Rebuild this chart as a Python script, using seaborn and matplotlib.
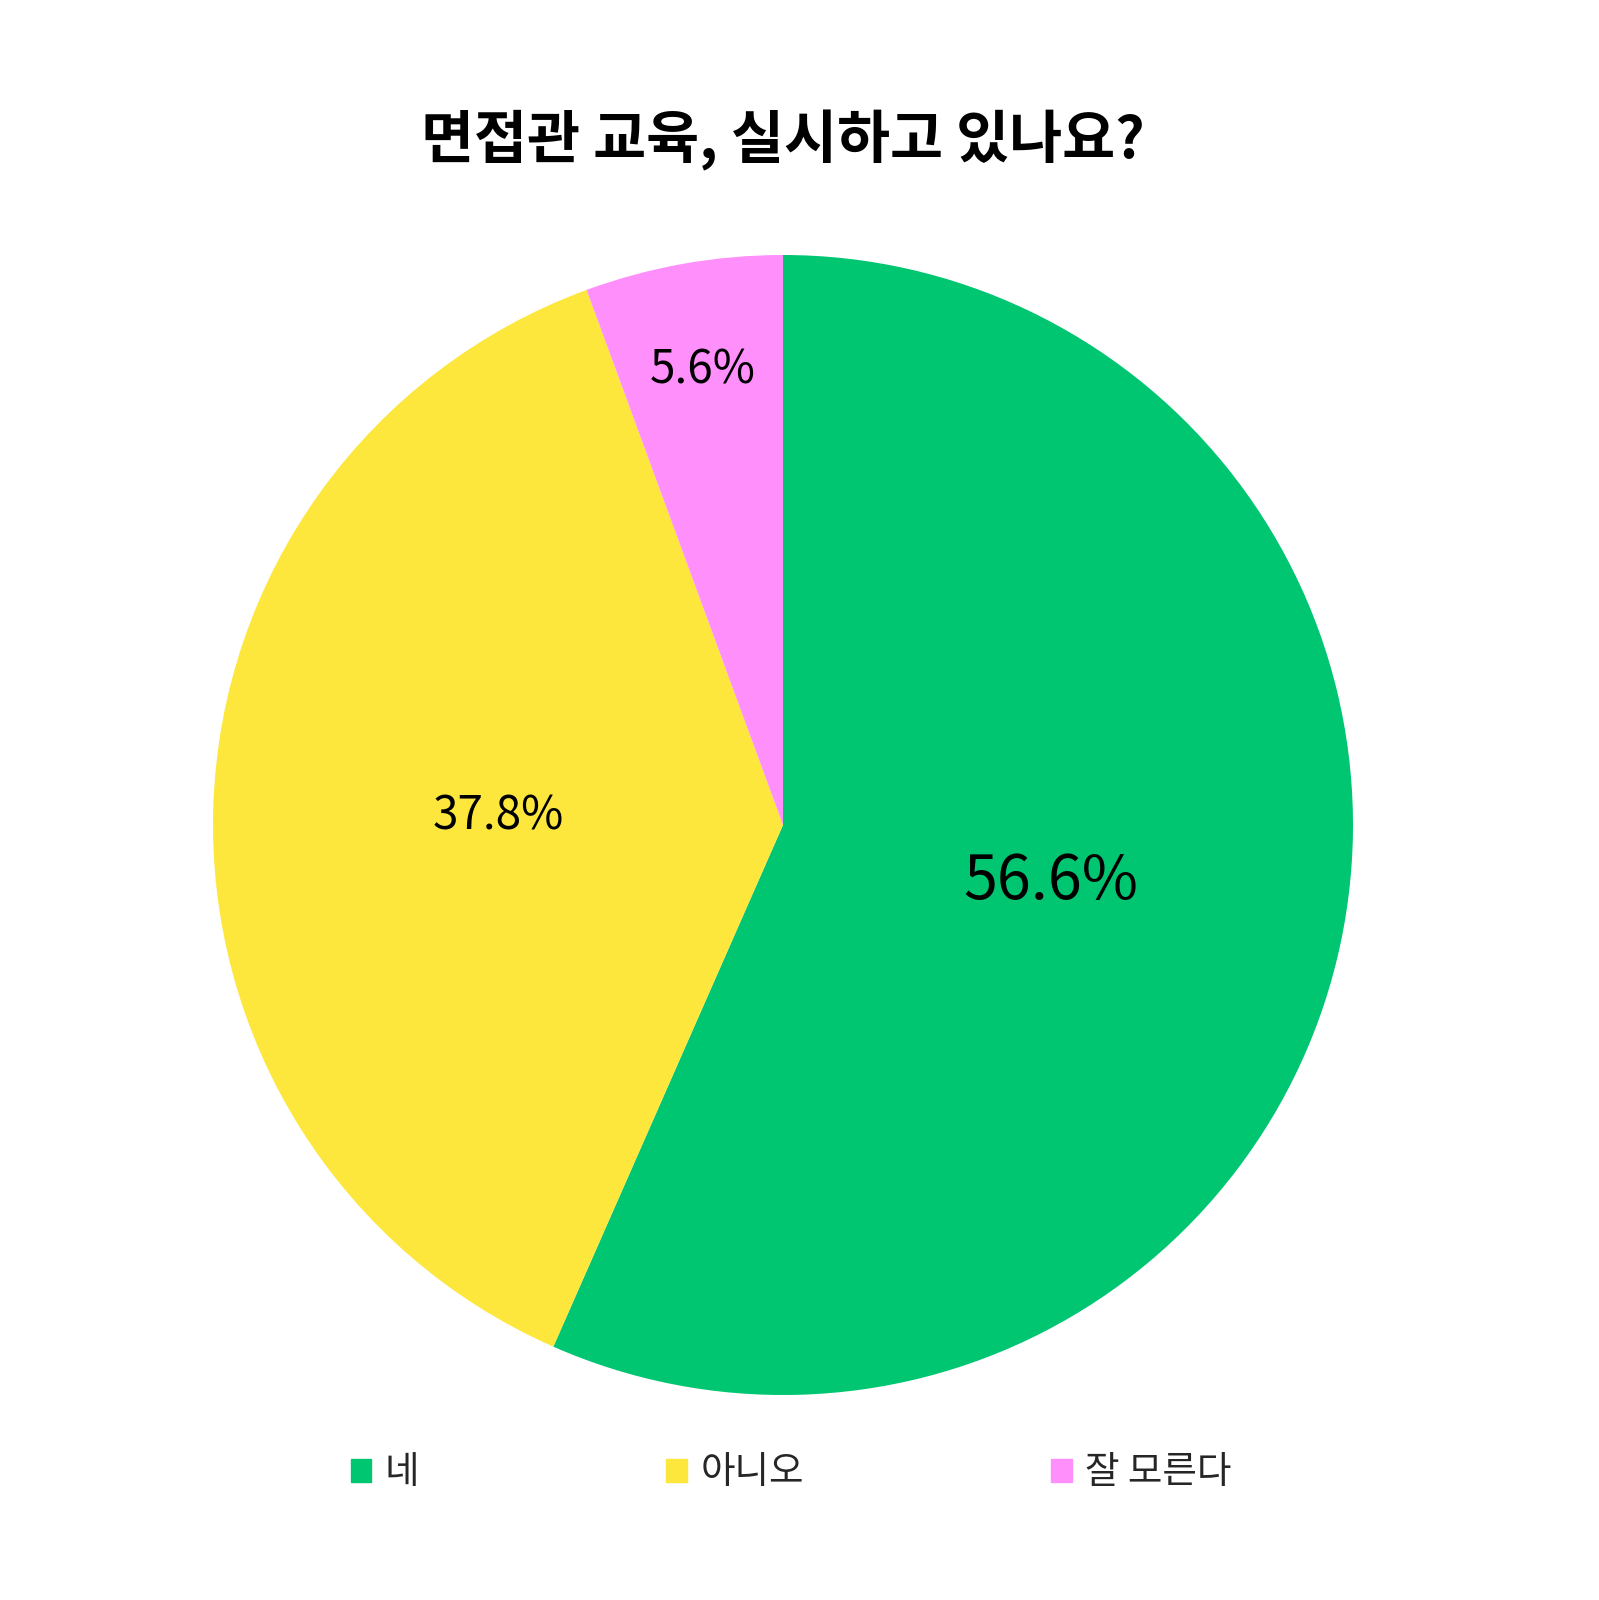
import matplotlib
matplotlib.use("Agg")
import matplotlib.pyplot as plt
import seaborn as sns
import numpy as np

title = "면접관 교육, 실시하고 있나요?"
categories = ["네", "아니오", "잘 모른다"]
values = [56.6, 37.8, 5.6]
colors = ["#00C571", "#FDE73D", "#FF8FFB"]
label_sizes = [44, 33, 33]
label_dist = [0.48, 0.50, 0.81]

sns.set_theme(style="white")
plt.rcParams['font.family'] = ['Noto Sans CJK KR', 'DejaVu Sans']

W, H = 1599, 1600
fig = plt.figure(figsize=(W / 100, H / 100), dpi=100)
fig.patch.set_facecolor("white")
cx, cy, r = 783, 825, 570
ax = fig.add_axes([(cx - r) / W, (H - cy - r) / H, 2 * r / W, 2 * r / H])

wedges, texts, autotexts = ax.pie(
    values, colors=colors, startangle=90, counterclock=False,
    autopct=lambda p: f"{p:.1f}%", pctdistance=0.5,
    wedgeprops=dict(linewidth=0),
)
for w, t, size, d in zip(wedges, autotexts, label_sizes, label_dist):
    ang = np.deg2rad((w.theta1 + w.theta2) / 2)
    t.set_position((d * np.cos(ang), d * np.sin(ang)))
    t.set_fontsize(size)
    t.set_color("black")
    t.set_ha("center")
    t.set_va("center")
ax.set_xlim(-1, 1)
ax.set_ylim(-1, 1)
ax.set_aspect("equal")
ax.axis("off")

fig.text(783 / W, 1 - 140 / H, title, ha="center", va="center",
         fontsize=41.5, fontweight="bold", color="black")

handles = [plt.Rectangle((0, 0), 1, 1, color=c) for c in colors]
fig.legend(handles, categories, loc="center", bbox_to_anchor=(791 / W, 1 - 1473 / H),
           ncol=3, frameon=False, prop=dict(size=27),
           handlelength=0.55, handleheight=0.55,
           handletextpad=0.35, columnspacing=6.6)

fig.savefig("out.png", dpi=100, facecolor="white")
